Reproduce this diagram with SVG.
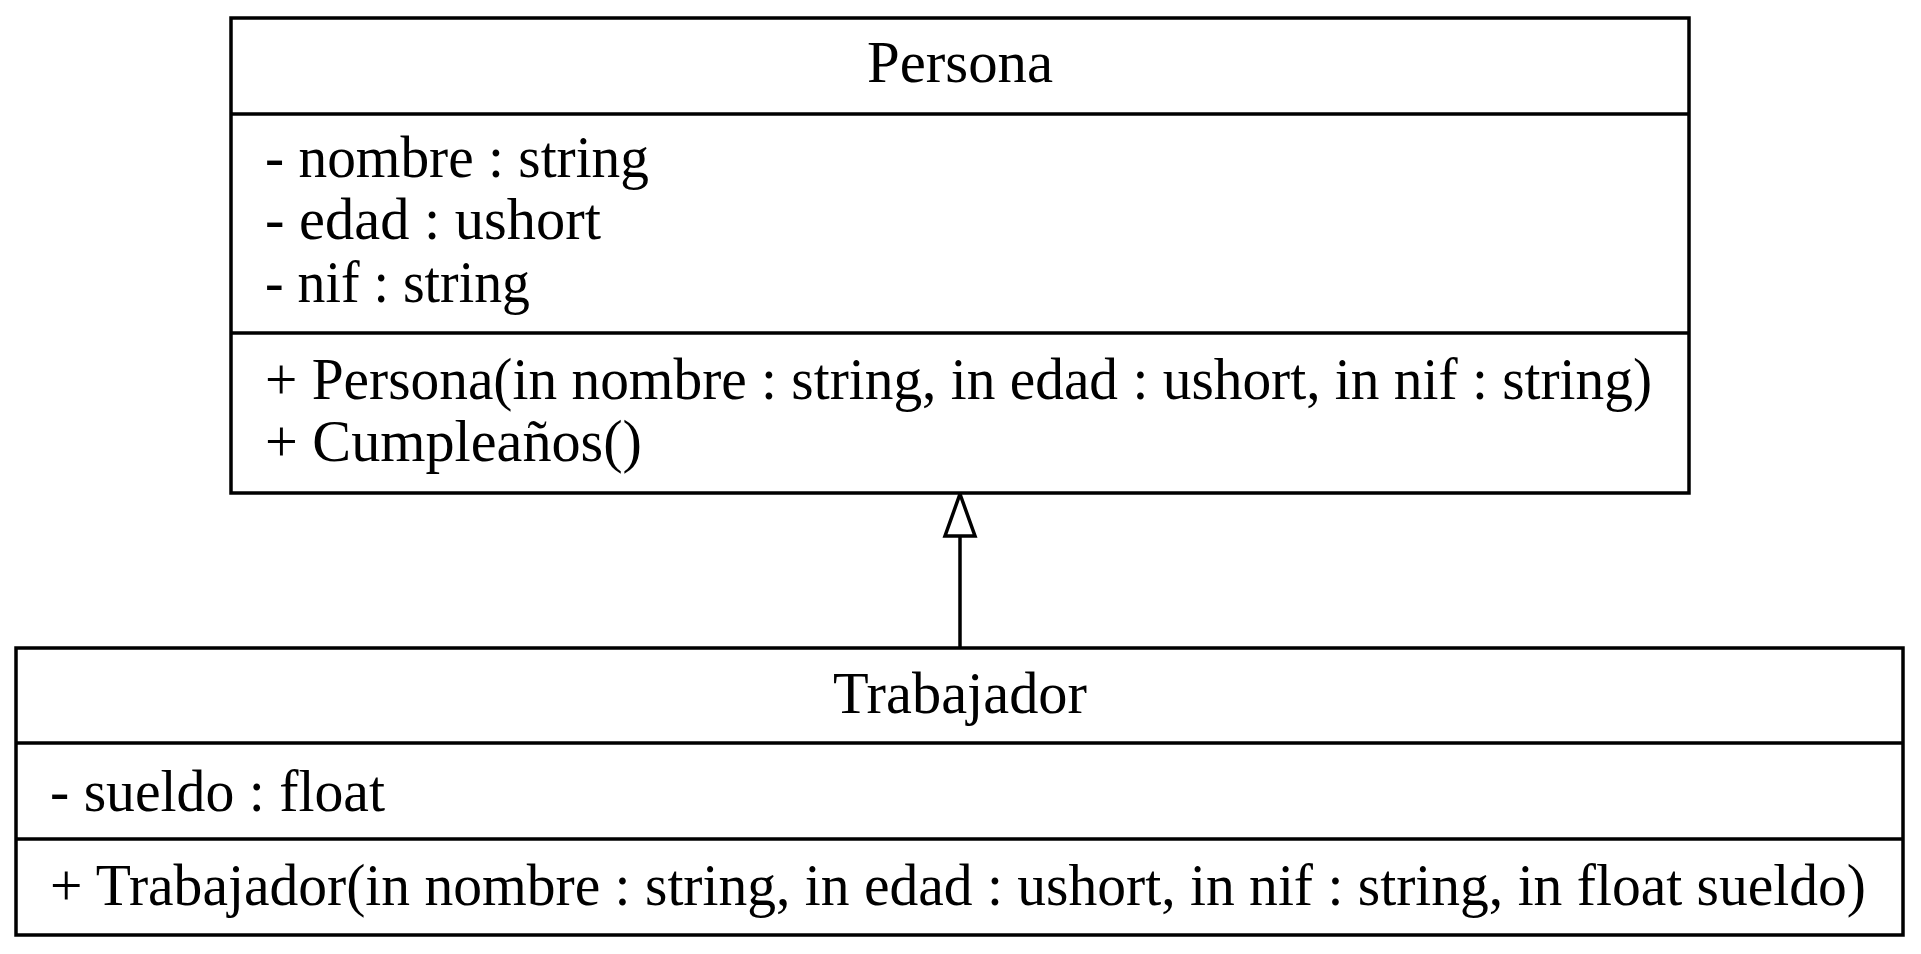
<svg xmlns="http://www.w3.org/2000/svg" width="1921" height="954" viewBox="0 0 1921 954">
  <style>
    .box { fill: #ffffff; stroke: #000000; stroke-width: 3.5; }
    .sep { stroke: #000000; stroke-width: 3.5; fill: none; }
    .t { font-family: "Liberation Serif", "Times New Roman", serif; font-size: 59px; fill: #000000; }
    .c { text-anchor: middle; }
    .edge { stroke: #000000; stroke-width: 3.5; fill: none; }
  </style>
  <rect width="1921" height="954" fill="#ffffff"/>

  <g id="connectors">
    <path class="edge" d="M960,647 L960,536"/>
    <path d="M960,494 L975,536 L945,536 Z" fill="#ffffff" stroke="#000000" stroke-width="3.5" stroke-linejoin="miter"/>
  </g>

  <g id="Persona">
    <rect class="box" x="231" y="18" width="1458" height="475"/>
    <line class="sep" x1="231" y1="114" x2="1689" y2="114"/>
    <line class="sep" x1="231" y1="333" x2="1689" y2="333"/>
    <text class="t c" x="960" y="82" textLength="186" lengthAdjust="spacingAndGlyphs">Persona</text>
    <text class="t" x="265" y="177" textLength="384" lengthAdjust="spacingAndGlyphs">- nombre : string</text>
    <text class="t" x="265" y="239" textLength="336" lengthAdjust="spacingAndGlyphs">- edad : ushort</text>
    <text class="t" x="265" y="302" textLength="265" lengthAdjust="spacingAndGlyphs">- nif : string</text>
    <text class="t" x="265" y="399" textLength="1387" lengthAdjust="spacingAndGlyphs">+ Persona(in nombre : string, in edad : ushort, in nif : string)</text>
    <text class="t" x="265" y="461" textLength="377" lengthAdjust="spacingAndGlyphs">+ Cumpleaños()</text>
  </g>

  <g id="Trabajador">
    <rect class="box" x="16" y="648" width="1887" height="287"/>
    <line class="sep" x1="16" y1="743" x2="1903" y2="743"/>
    <line class="sep" x1="16" y1="839" x2="1903" y2="839"/>
    <text class="t c" x="960" y="713" textLength="254" lengthAdjust="spacingAndGlyphs">Trabajador</text>
    <text class="t" x="50" y="811" textLength="335" lengthAdjust="spacingAndGlyphs">- sueldo : float</text>
    <text class="t" x="50" y="905" textLength="1816" lengthAdjust="spacingAndGlyphs">+ Trabajador(in nombre : string, in edad : ushort, in nif : string, in float sueldo)</text>
  </g>
</svg>
